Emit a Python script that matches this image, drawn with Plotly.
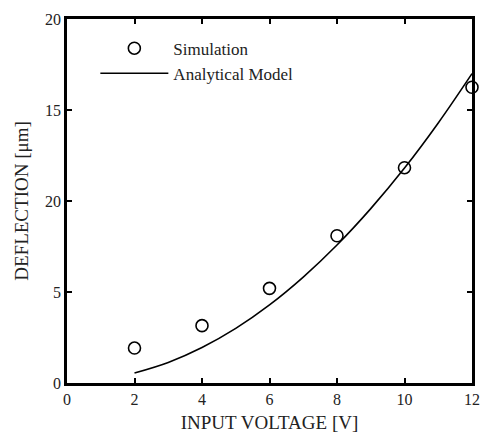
import plotly.graph_objects as go

sim_v = [2, 4, 6, 8, 10, 12]
sim_defl = [1.92, 3.15, 5.2, 8.09, 11.83, 16.25]

model_v = [2, 3, 4, 5, 6, 7, 8, 9, 10, 11, 12]
model_defl = [0.55, 1.13, 1.95, 3.0, 4.29, 5.82, 7.58, 9.58, 11.81, 14.29, 17.0]

x_ticks = [0, 2, 4, 6, 8, 10, 12]
y_ticks = [0, 5, 10, 15, 20]
y_ticktext = ["0", "5", "20", "15", "20"]

FONT = "Liberation Serif"

fig = go.Figure()
fig.add_trace(go.Scatter(
    x=sim_v, y=sim_defl, mode="markers", name="Simulation",
    marker=dict(symbol="circle-open", size=12, color="black", line=dict(width=1.6, color="black")),
    cliponaxis=False,
))
fig.add_trace(go.Scatter(
    x=model_v, y=model_defl, mode="lines", name="Analytical Model",
    line=dict(color="black", width=1.6, shape="spline", smoothing=1.0),
))

axis_common = dict(
    showline=True, linecolor="#000000", linewidth=2.5, mirror="allticks",
    ticks="inside", ticklen=5, tickwidth=2, tickcolor="black",
    showgrid=False, zeroline=False, automargin=False,
    tickfont=dict(family=FONT, size=16, color="#222"),
)

fig.update_layout(
    width=480, height=433,
    margin=dict(l=67, r=8, t=19, b=50),
    paper_bgcolor="white", plot_bgcolor="white",
    font=dict(family=FONT, color="#222"),
    showlegend=True,
    legend=dict(
        x=0.07, y=0.968, xanchor="left", yanchor="top",
        bgcolor="rgba(0,0,0,0)", font=dict(family=FONT, size=17, color="#222"),
        itemwidth=68, tracegroupgap=0,
    ),
    xaxis=dict(range=[0, 12], tickvals=x_ticks,
               title=dict(text="INPUT VOLTAGE [V]", font=dict(family=FONT, size=19, color="#222"), standoff=9),
               **axis_common),
    yaxis=dict(range=[0, 20], tickvals=y_ticks, ticktext=y_ticktext,
               title=dict(text="DEFLECTION [μm]", font=dict(family=FONT, size=19, color="#222"), standoff=12),
               **axis_common),
)

fig.write_html("out.html")
